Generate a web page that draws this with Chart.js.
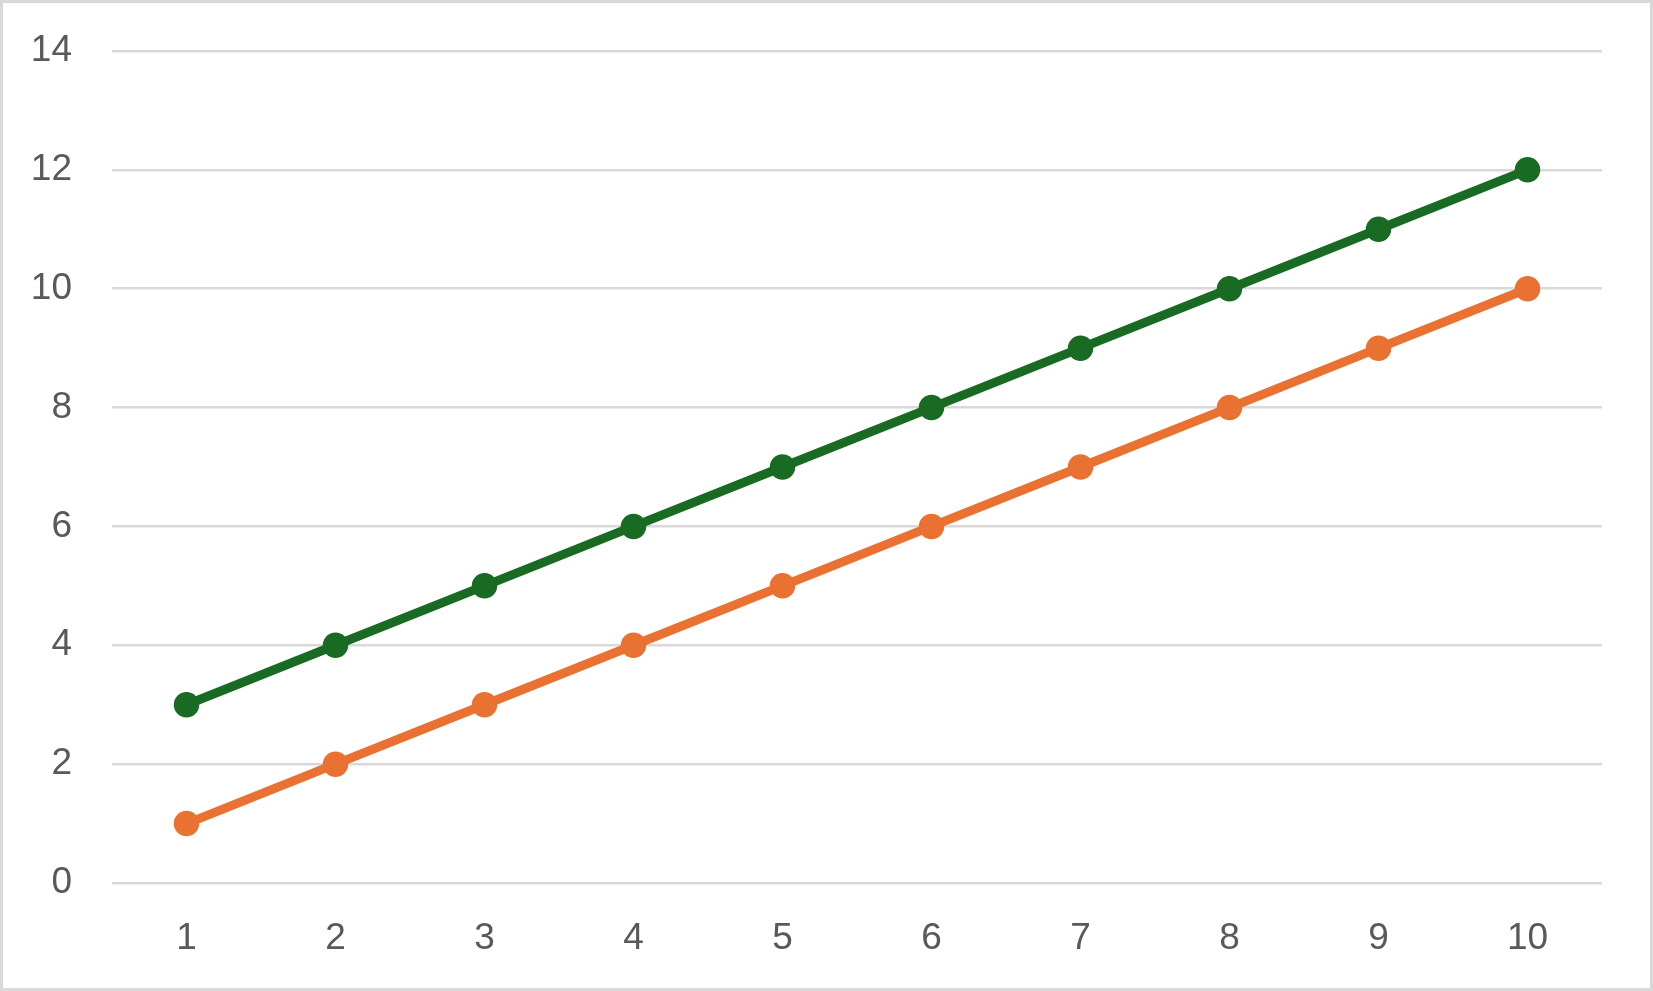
<!DOCTYPE html>
<html>
<head>
<meta charset="utf-8">
<script src="https://cdn.jsdelivr.net/npm/chart.js@4/dist/chart.umd.min.js"></script>
<style>
  html, body { margin: 0; padding: 0; background: #fff; }
  #wrap { width: 1653px; height: 991px; position: relative; }
  canvas { display: block; }
</style>
</head>
<body>
<div id="wrap"><canvas id="c" width="1653" height="991"></canvas></div>
<script>
const categories = ['1', '2', '3', '4', '5', '6', '7', '8', '9', '10'];
const greenValues = [3, 4, 5, 6, 7, 8, 9, 10, 11, 12];
const orangeValues = [1, 2, 3, 4, 5, 6, 7, 8, 9, 10];
const yTicksMin = 0, yTicksMax = 14, yTicksStep = 2;

const borderPlugin = {
  id: 'outerBorder',
  afterDraw(chart) {
    const ctx = chart.ctx;
    ctx.save();
    ctx.strokeStyle = '#d9d9d9';
    ctx.lineWidth = 3;
    ctx.strokeRect(1.5, 1.5, chart.width - 3, chart.height - 3);
    ctx.restore();
  }
};

const bgPlugin = {
  id: 'bg',
  beforeDraw(chart) {
    const ctx = chart.ctx;
    ctx.save();
    ctx.fillStyle = '#fff';
    ctx.fillRect(0, 0, chart.width, chart.height);
    ctx.restore();
  }
};

const FONT = { family: "'Liberation Sans', Arial, sans-serif", size: 37 };

new Chart(document.getElementById('c'), {
  type: 'line',
  data: {
    labels: categories,
    datasets: [
      {
        label: 'Series 2',
        data: greenValues,
        borderColor: '#196B24',
        backgroundColor: '#196B24',
        borderWidth: 9,
        pointRadius: 12,
        pointBorderWidth: 1.5,
        pointBackgroundColor: '#196B24',
        pointBorderColor: '#196B24',
        tension: 0
      },
      {
        label: 'Series 1',
        data: orangeValues,
        borderColor: '#E97132',
        backgroundColor: '#E97132',
        borderWidth: 9,
        pointRadius: 12,
        pointBorderWidth: 1.5,
        pointBackgroundColor: '#E97132',
        pointBorderColor: '#E97132',
        tension: 0
      }
    ]
  },
  options: {
    responsive: false,
    animation: false,
    devicePixelRatio: 1,
    layout: { padding: { left: 0, right: 51, top: 51, bottom: 0 } },
    plugins: { legend: { display: false }, tooltip: { enabled: false } },
    scales: {
      x: {
        offset: true,
        grid: { display: false, drawTicks: false },
        border: { display: false },
        ticks: { color: '#595959', font: FONT, padding: 34, maxRotation: 0 },
        afterFit(scale) { scale.height = 108; }
      },
      y: {
        min: yTicksMin,
        max: yTicksMax,
        grid: { color: '#d9d9d9', lineWidth: 2.5, drawTicks: false },
        border: { display: false },
        ticks: { stepSize: yTicksStep, color: '#595959', font: FONT, padding: 40 },
        afterFit(scale) {
          scale.width = 112;
          scale.paddingTop = 0;
          scale.paddingBottom = 0;
        }
      }
    }
  },
  plugins: [bgPlugin, borderPlugin]
});
</script>
</body>
</html>
